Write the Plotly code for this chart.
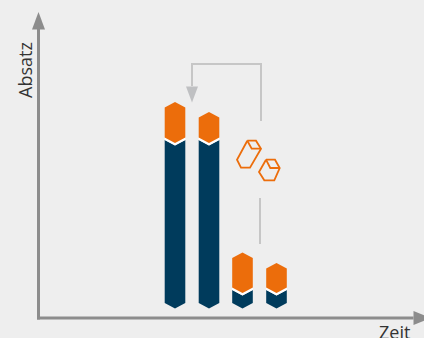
import plotly.graph_objects as go

# Chart values, in plot units (axis origin at 0, 0)
bar_x = [136.5, 170.5, 204, 238]
bar_names = ["A", "B", "C", "D"]
navy_top = [178, 178, 28, 28]
orange_top = [216, 206, 65.5, 55]
bar_floor = 9.5
half_width = 10.3
tip = 5.5
gap = 2.6

axis_x_end = 392
axis_y_end = 306
GRAY = "#8c8c8c"
LIGHT = "#c6c6c6"
ORANGE = "#ec6d0b"
NAVY = "#003b5c"
BG = "#eeeeee"

connector_x = [222.5, 222.5, 153.5, 153.5]
connector_y = [197, 254, 254, 232]
connector2_x = [221.5, 221.5]
connector2_y = [120, 74]
head_x = [147.5, 159.5, 153.5, 147.5]
head_y = [231.5, 231.5, 215.5, 231.5]

hex_big_x = [208.8, 217.5, 222.5, 211.5, 202.5, 198.5, 208.8]
hex_big_y = [177.3, 177.3, 169.3, 150.3, 150.3, 158.3, 177.3]
lid_big_x = [208.8, 213.2, 222.5]
lid_big_y = [177.3, 169.3, 169.3]
hex_small_x = [227.5, 236.5, 241.2, 235.8, 225.8, 220.5, 227.5]
hex_small_y = [158.3, 158.3, 150, 137.7, 137.7, 146, 158.3]
lid_small_x = [227.5, 231.8, 241.2]
lid_small_y = [158.3, 150, 150]
outline_x = [hex_big_x, lid_big_x, hex_small_x, lid_small_x]
outline_y = [hex_big_y, lid_big_y, hex_small_y, lid_small_y]

fig = go.Figure()


def poly(xs, ys, color, name):
    fig.add_trace(go.Scatter(x=xs, y=ys, mode="lines", fill="toself", fillcolor=color,
                             line=dict(color=color, width=0), name=name, hoverinfo="skip"))


for cx, n, o, name in zip(bar_x, navy_top, orange_top, bar_names):
    left, right = cx - half_width, cx + half_width
    poly([left, cx, right, right, cx, left, left],
         [bar_floor + tip, bar_floor, bar_floor + tip, n, n - tip, n, bar_floor + tip], NAVY, name + " navy")
    poly([left, cx, right, right, cx, left, left],
         [n, n - tip, n, n + gap, n + gap - tip, n + gap, n], "#ffffff", name + " gap")
    poly([left, cx, right, right, cx, left, left],
         [n + gap, n + gap - tip, n + gap, o - tip, o, o - tip, n + gap], ORANGE, name + " orange")

for xs, ys in [(connector_x, connector_y), (connector2_x, connector2_y)]:
    fig.add_trace(go.Scatter(x=xs, y=ys, mode="lines", line=dict(color=LIGHT, width=2), hoverinfo="skip"))
poly(head_x, head_y, "#bfc0c2", "head")

for xs, ys in zip(outline_x, outline_y):
    fig.add_trace(go.Scatter(x=xs, y=ys, mode="lines", line=dict(color=ORANGE, width=1.8), hoverinfo="skip"))

fig.add_trace(go.Scatter(x=[0, 0], y=[-1.5, axis_y_end - 17], mode="lines", line=dict(color=GRAY, width=3), hoverinfo="skip"))
fig.add_trace(go.Scatter(x=[-1.5, axis_x_end - 17], y=[0, 0], mode="lines", line=dict(color=GRAY, width=3), hoverinfo="skip"))
poly([-6.5, 6.5, 0, -6.5], [288.5, 288.5, axis_y_end, 288.5], GRAY, "y head")
poly([375, 375, axis_x_end, 375], [7, -7, 0, 7], GRAY, "x head")

fig.update_layout(
    width=424, height=338, margin=dict(l=0, r=0, t=0, b=0),
    paper_bgcolor=BG, plot_bgcolor=BG, showlegend=False,
    xaxis=dict(range=[-38.5, 385.5], visible=False, fixedrange=True),
    yaxis=dict(range=[-20, 318], visible=False, fixedrange=True),
    font=dict(family="Open Sans", color="#333333", size=18),
    annotations=[
        dict(text="Absatz", x=-13.5, y=248, xref="x", yref="y", showarrow=False, textangle=-90,
             xanchor="center", yanchor="middle"),
        dict(text="Zeit", x=355.5, y=0, xref="x", yref="y", showarrow=False,
             xanchor="center", yanchor="top"),
    ],
)
fig.write_html("out.html", config={"displayModeBar": False},
               post_script="document.body.style.margin='0';document.body.style.overflow='hidden';")
